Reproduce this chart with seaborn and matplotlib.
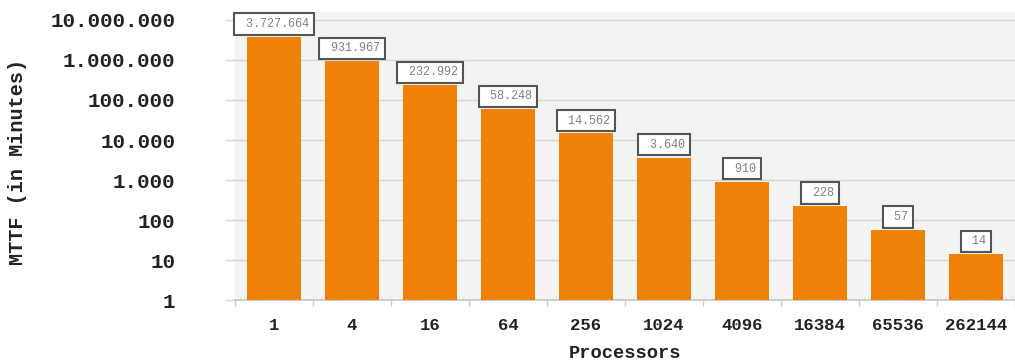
import matplotlib
matplotlib.use("Agg")
import matplotlib.pyplot as plt
import matplotlib.ticker as mticker
import numpy as np
import pandas as pd
import seaborn as sns

processors = ["1", "4", "16", "64", "256", "1024", "4096", "16384", "65536", "262144"]
mttf_minutes = [3727664, 931967, 232992, 58248, 14562, 3640, 910, 228, 57, 14]
y_ticks = [1, 10, 100, 1_000, 10_000, 100_000, 1_000_000, 10_000_000]

df = pd.DataFrame({"Processors": processors, "MTTF": mttf_minutes})

sns.set_theme(style="white")
mono = ["Liberation Mono", "DejaVu Sans Mono"]
plt.rcParams["font.family"] = mono


def dotted(v):
    return f"{int(round(v)):,}".replace(",", ".")


fig = plt.figure(figsize=(10.15, 3.62), dpi=100)
ax = fig.add_axes([0.2315, 0.171, 0.7685, 0.796])
ax.set_facecolor("#f3f3f3")
ax.set_yscale("log")

sns.barplot(data=df, x="Processors", y="MTTF", ax=ax, color="#f0820a",
            saturation=1, width=0.69, linewidth=0, zorder=3)

ax.set_ylim(1, 10 ** 7.2)
ax.set_xlim(-0.45, 9.5)
ax.yaxis.set_major_locator(mticker.FixedLocator(y_ticks))
ax.yaxis.set_minor_locator(mticker.NullLocator())
ax.yaxis.set_major_formatter(mticker.FuncFormatter(lambda v, _: dotted(v)))
ax.grid(axis="y", color="#d6d6d6", linewidth=1, zorder=0)
ax.set_axisbelow(True)

for side in ["top", "right", "left"]:
    ax.spines[side].set_visible(False)
ax.spines["bottom"].set_color("#c8c8c8")

ax.set_xticks(np.arange(-0.5, 10, 1), minor=True)
ax.tick_params(axis="x", which="minor", length=4, color="#c8c8c8", bottom=True)
ax.tick_params(axis="x", which="major", length=0, pad=13, labelsize=12.5)
ax.tick_params(axis="y", left=True, length=7, width=1, color="#d6d6d6", pad=36, labelsize=15)
for lab in ax.get_xticklabels() + ax.get_yticklabels():
    lab.set_fontweight("bold")
    lab.set_color("#222222")

ax.set_xlabel("Processors", fontsize=13.5, fontweight="bold", color="#222222")
ax.xaxis.set_label_coords(0.5, -0.155)
ax.set_ylabel("MTTF (in Minutes)", fontsize=14.5, fontweight="bold", color="#222222")
ax.yaxis.set_label_coords(-0.266, 0.479)

ax.bar_label(ax.containers[0], labels=[" " + dotted(v) for v in mttf_minutes], padding=5,
             fontsize=8.5, color="#808080",
             bbox=dict(boxstyle="square,pad=0.4", facecolor="white",
                       edgecolor="#555555", linewidth=1.5))

fig.savefig("out.png", dpi=100)
